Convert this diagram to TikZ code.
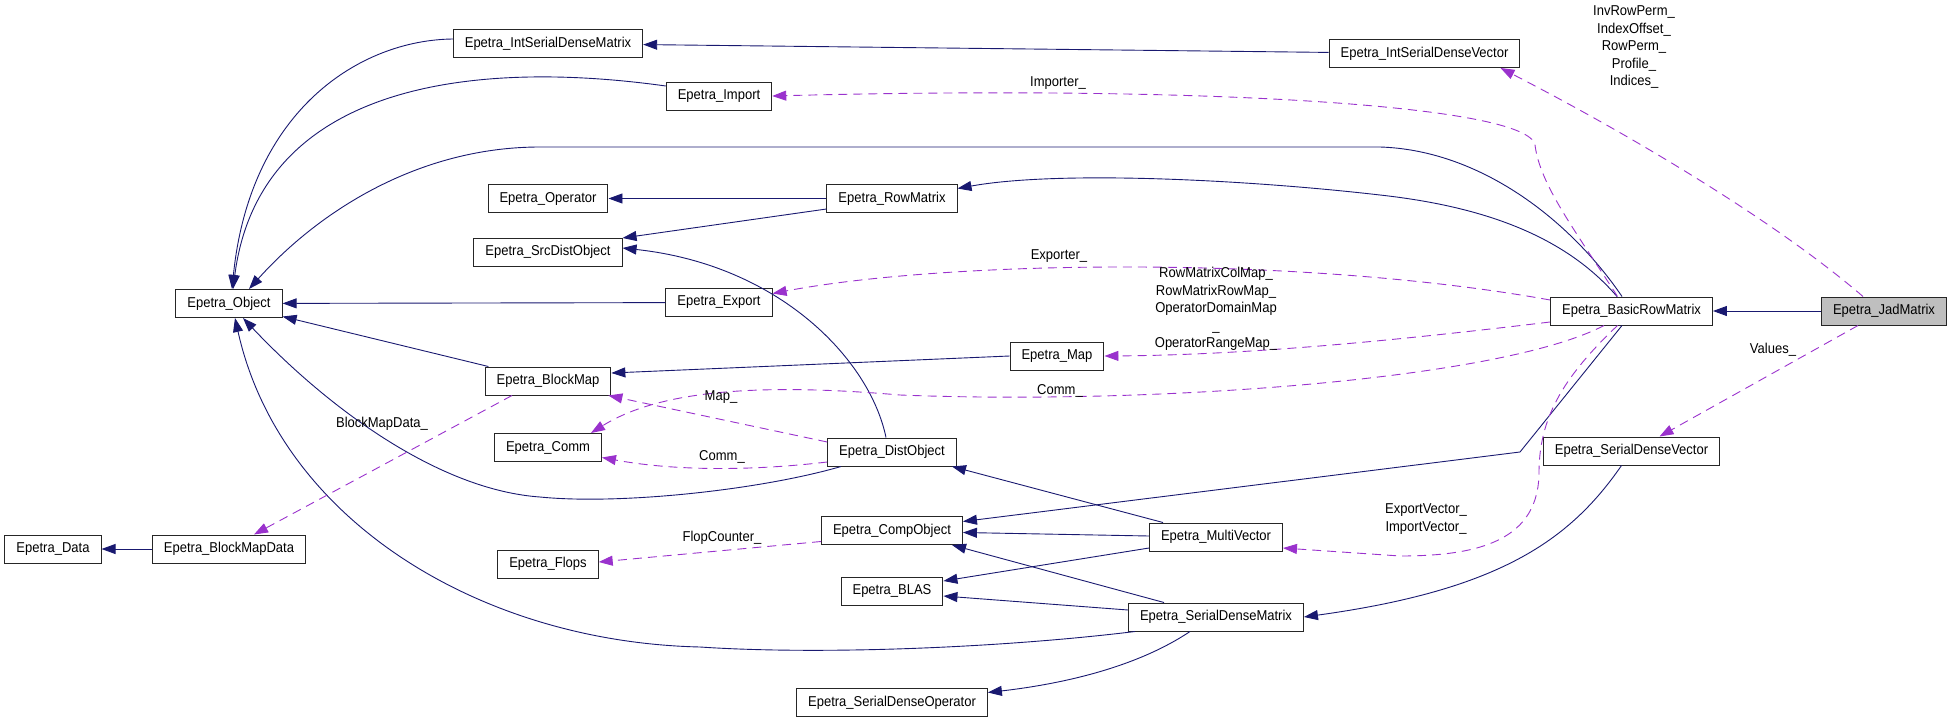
\documentclass[tikz,border=0pt]{standalone}
\usepackage{fontspec}
\setmainfont{Liberation Sans}[FakeStretch=0.91]
\usetikzlibrary{positioning, arrows.meta}

\definecolor{inherit_blue}{HTML}{191970}
\definecolor{use_purple}{HTML}{9A32CD}

\begin{document}
\begin{tikzpicture}
    [
        x=1pt, y=1pt, on grid,
        class_node/.style={rectangle, draw=black!85, fill=white, line width=1pt, inner xsep=11.5pt, minimum height=28pt, font=\fontsize{14.3}{16}\selectfont},
        main_node/.style={class_node, fill=black!25},
        inherit_edge/.style={-{Triangle[length=14pt, width=10pt]}, line width=0.9pt, color=inherit_blue},
        use_edge/.style={-{Triangle[length=14pt, width=10pt]}, line width=0.9pt, color=use_purple, dash pattern=on 9pt off 6pt},
        edge_label/.style={align=center, inner sep=0pt, font=\fontsize{14.3}{17.5}\selectfont},
    ]
        \useasboundingbox (0,0) rectangle (1952,-723) ;
        \node[class_node] (obj) at (229,-303.5) {Epetra\_Object} ;
        \node[class_node] (bmd) [below = 245.5pt of obj] {Epetra\_BlockMapData} ;
        \node[class_node] (data) [left = 176pt of bmd] {Epetra\_Data} ;
        \node[class_node] (isdm) at (548,-43.5) {Epetra\_IntSerialDenseMatrix} ;
        \node[class_node] (op) [below = 155pt of isdm] {Epetra\_Operator} ;
        \node[class_node] (srcdist) [below = 53.5pt of op] {Epetra\_SrcDistObject} ;
        \node[class_node] (bm) [below = 129pt of srcdist] {Epetra\_BlockMap} ;
        \node[class_node] (comm) [below = 66.5pt of bm] {Epetra\_Comm} ;
        \node[class_node] (flops) [below = 116.5pt of comm] {Epetra\_Flops} ;
        \node[class_node] (import) at (719,-96) {Epetra\_Import} ;
        \node[class_node] (export) [below = 206.5pt of import] {Epetra\_Export} ;
        \node[class_node] (rm) [right = 344pt of op] {Epetra\_RowMatrix} ;
        \node[class_node] (dist) [below = 253.5pt of rm] {Epetra\_DistObject} ;
        \node[class_node] (co) [below = 78.5pt of dist] {Epetra\_CompObject} ;
        \node[class_node] (blas) [below = 60.5pt of co] {Epetra\_BLAS} ;
        \node[class_node] (sdop) [below = 111.5pt of blas] {Epetra\_SerialDenseOperator} ;
        \node[class_node] (map) at (1057,-356) {Epetra\_Map} ;
        \node[class_node] (mv) at (1216,-537) {Epetra\_MultiVector} ;
        \node[class_node] (sdm) [below = 80pt of mv] {Epetra\_SerialDenseMatrix} ;
        \node[class_node] (isdv) at (1424.5,-53.5) {Epetra\_IntSerialDenseVector} ;
        \node[class_node] (brm) at (1631.5,-311) {Epetra\_BasicRowMatrix} ;
        \node[main_node] (jad) [right = 252.5pt of brm] {Epetra\_JadMatrix} ;
        \node[class_node] (sdv) [below = 140pt of brm] {Epetra\_SerialDenseVector} ;
        % inheritance
        \draw[inherit_edge] (isdv) -- (isdm) ;
        \draw[inherit_edge] ([yshift=4.5pt]isdm.west) .. controls (360,-40) and (250,-110) .. ([xshift=3pt]obj.north) ;
        \draw[inherit_edge] ([yshift=10pt]import.west) .. controls (480,-60) and (260,-80) .. ([xshift=4pt]obj.north) ;
        \draw[inherit_edge] ([xshift=-9.5pt]brm.north) .. controls (1570,-220) and (1480,-150) .. (1380,-147) -- (540,-147) .. controls (420,-147) and (320,-210) .. ([xshift=20pt]obj.north) ;
        \draw[inherit_edge] (rm) -- (op) ;
        \draw[inherit_edge] ([yshift=-10.5pt]rm.west) -- ([yshift=14pt]srcdist.east) ;
        \draw[inherit_edge] ([xshift=-14.5pt]brm.north) .. controls (1560,-230) and (1470,-205) .. (1380,-195) .. controls (1250,-180) and (1060,-170) .. ([yshift=10pt]rm.east) ;
        \draw[inherit_edge] ([xshift=-6pt]dist.north) .. controls (870,-360) and (780,-265) .. ([yshift=4pt]srcdist.east) ;
        \draw[inherit_edge] (export) -- (obj) ;
        \draw[inherit_edge] (bm) -- (obj) ;
        \draw[inherit_edge] (map.west) -- ([yshift=8pt]bm.east) ;
        \draw[inherit_edge] ([xshift=-51pt]dist.south) .. controls (760,-490) and (620,-505) .. (540,-497) .. controls (440,-490) and (330,-410) .. ([xshift=14pt]obj.south) ;
        \draw[inherit_edge] ([xshift=-81pt]sdm.south) .. controls (1000,-648) and (820,-655) .. (700,-647) .. controls (480,-642) and (280,-520) .. ([xshift=6pt]obj.south) ;
        \draw[inherit_edge] (bmd) -- (data) ;
        \draw[inherit_edge] ([xshift=-9.5pt]brm.south) -- (1520,-452) -- ([yshift=9pt]co.east) ;
        \draw[inherit_edge] ([xshift=-53pt]mv.north) -- ([xshift=60pt]dist.south) ;
        \draw[inherit_edge] ([yshift=1pt]mv.west) -- ([yshift=-2pt]co.east) ;
        \draw[inherit_edge] ([yshift=-11pt]mv.west) -- ([yshift=10pt]blas.east) ;
        \draw[inherit_edge] ([xshift=-52pt]sdm.north) -- ([xshift=60pt]co.south) ;
        \draw[inherit_edge] ([yshift=7pt]sdm.west) -- ([yshift=-5pt]blas.east) ;
        \draw[inherit_edge] ([xshift=-26pt]sdm.south) .. controls (1140,-665) and (1070,-683) .. ([yshift=10pt]sdop.east) ;
        \draw[inherit_edge] ([xshift=-10pt]sdv.south) .. controls (1570,-540) and (1500,-590) .. (sdm.east) ;
        \draw[inherit_edge] (jad) -- (brm) ;
        % members
        \draw[use_edge] ([xshift=-21pt]jad.north) .. controls (1780,-225) and (1640,-140) .. ([xshift=76pt]isdv.south) ;
        \draw[use_edge] ([xshift=-14pt]brm.north) .. controls (1575,-230) and (1540,-185) .. (1535,-145) .. controls (1528,-105) and (1200,-85) .. (import.east) ;
        \draw[use_edge] ([yshift=11pt]brm.west) .. controls (1300,-255) and (950,-260) .. ([yshift=9pt]export.east) ;
        \draw[use_edge] ([yshift=-11pt]brm.west) .. controls (1400,-340) and (1250,-355) .. (map.east) ;
        \draw[use_edge] ([xshift=-27.5pt]brm.south) .. controls (1500,-380) and (1150,-405) .. (900,-395) .. controls (760,-383) and (660,-390) .. ([xshift=-11pt]comm.north east) ;
        \draw[use_edge] ([xshift=-14pt]brm.south) .. controls (1560,-380) and (1540,-420) .. (1539,-470) .. controls (1540,-540) and (1480,-556) .. (1400,-556) -- ([yshift=-11pt]mv.east) ;
        \draw[use_edge] ([xshift=-26pt]jad.south) -- ([xshift=28pt]sdv.north) ;
        \draw[use_edge] ([xshift=-36pt]bm.south) -- ([xshift=25pt]bmd.north) ;
        \draw[use_edge] ([yshift=10pt]dist.west) -- ([xshift=-3pt]bm.south east) ;
        \draw[use_edge] ([yshift=-10pt]dist.west) .. controls (760,-470) and (680,-472) .. ([yshift=-10pt]comm.east) ;
        \draw[use_edge] ([yshift=-11pt]co.west) -- ([yshift=2pt]flops.east) ;
        \node[edge_label] (lbl_jad_isdv) at (1634,-47) {InvRowPerm\_\\IndexOffset\_\\RowPerm\_\\Profile\_\\Indices\_} ;
        \node[edge_label] (lbl_importer) at (1058,-83) {Importer\_} ;
        \node[edge_label] (lbl_exporter) at (1059,-256) {Exporter\_} ;
        \node[edge_label] (lbl_maps) at (1216,-309) {RowMatrixColMap\_\\RowMatrixRowMap\_\\OperatorDomainMap\\\_\\OperatorRangeMap\_} ;
        \node[edge_label] (lbl_comm_brm) at (1060,-391) {Comm\_} ;
        \node[edge_label] (lbl_vectors) at (1426,-519) {ExportVector\_\\ImportVector\_} ;
        \node[edge_label] (lbl_values) at (1773,-350) {Values\_} ;
        \node[edge_label] (lbl_bmd) at (382,-424) {BlockMapData\_} ;
        \node[edge_label] (lbl_map) at (721,-397) {Map\_} ;
        \node[edge_label] (lbl_comm_dist) at (722,-457) {Comm\_} ;
        \node[edge_label] (lbl_flops) at (722,-538) {FlopCounter\_} ;
    \end{tikzpicture}
\end{document}
